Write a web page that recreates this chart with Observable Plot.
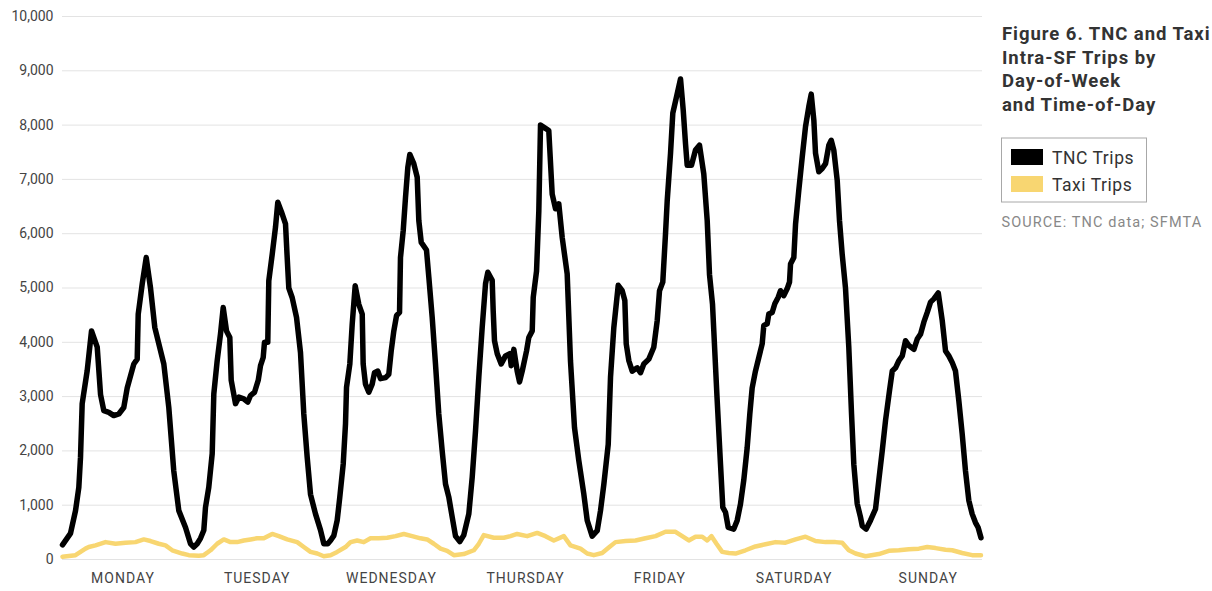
<!DOCTYPE html>
<html>
<head>
<meta charset="utf-8">
<script src="https://cdn.jsdelivr.net/npm/d3@7"></script>
<script src="https://cdn.jsdelivr.net/npm/@observablehq/plot@0.6"></script>
<style>
  html, body { margin: 0; padding: 0; background: #fff; overflow: hidden; }
  #wrap { position: relative; width: 1212px; height: 591px; font-family: Roboto, "Open Sans", sans-serif; }
  #chart { position: absolute; left: 0; top: 0; }
  #panel { position: absolute; left: 990px; top: 0; }
  g[aria-label="x-axis tick label"] text { letter-spacing: 1px; }
</style>
</head>
<body>
<div id="wrap">
  <div id="chart"></div>
  <div id="panel"></div>
</div>
<script>
// Hour of week (0 = Monday 00:00) and trips
const tncHours = [1.18,2.61,3.51,4.10,4.40,4.70,5.60,6.37,7.39,7.98,8.57,9.46,10.35,11.25,12.14,12.75,13.93,14.54,14.72,15.43,16.15,16.92,17.69,19.30,20.19,21.08,21.98,23.18,24.07,24.66,
  25.27,25.86,26.45,26.75,27.34,27.95,28.24,28.84,29.43,29.92,30.51,31.10,31.35,32.12,32.71,33.60,34.32,34.80,35.52,36.18,36.59,37.07,37.30,37.89,38.07,38.68,39.27,39.68,40.34,41.06,41.36,41.65,42.26,43.03,43.74,44.33,44.94,45.53,46.42,47.32,47.91,48.62,
  49.11,49.70,50.30,50.77,51.38,51.79,51.97,52.56,52.99,53.52,54.17,54.78,54.95,55.36,55.96,56.56,56.97,57.57,58.05,58.95,59.53,59.96,60.43,60.91,61.45,61.62,62.11,62.52,62.93,63.29,64.00,64.61,64.90,65.33,66.27,66.69,67.29,67.88,68.47,69.08,69.67,70.26,70.87,71.46,72.23,
  72.94,73.84,74.45,75.04,75.63,76.23,76.83,77.24,78.02,78.20,78.43,78.92,79.63,80.40,81.17,81.42,81.89,82.49,82.91,83.39,84.16,84.57,85.18,85.36,85.95,86.36,86.66,87.55,88.14,88.75,89.34,89.93,90.54,91.43,92.02,92.74,93.51,94.40,95.01,95.90,
  96.80,97.39,97.98,98.77,99.18,99.77,100.56,101.27,101.74,101.99,102.46,103.06,103.95,104.54,105.13,106.03,106.92,107.53,107.94,108.53,109.01,109.32,109.91,110.32,110.98,111.70,112.18,112.59,112.89,113.66,114.38,115.09,115.86,116.47,116.88,117.42,118.22,118.85,119.26,
  119.74,120.23,121.22,121.83,122.42,123.01,123.62,124.09,124.51,125.10,125.70,126.30,126.59,127.20,127.48,128.09,128.56,129.17,129.58,130.17,130.78,131.19,131.37,131.96,132.27,132.85,133.46,134.05,134.64,135.07,135.54,135.84,136.43,137.04,137.63,138.22,138.65,139.11,139.72,140.13,140.61,141.20,141.79,142.28,142.69,143.29,143.88,
  144.19,144.90,145.67,146.57,147.16,147.77,148.36,149.07,149.56,150.15,150.74,151.35,151.94,152.53,153.43,154.03,154.62,155.21,155.82,156.41,157.00,157.79,158.50,159.09,159.68,160.28,160.87,161.46,162.07,162.66,163.25,163.85,164.44,164.92,165.43];
const tncTrips = [270,480,900,1330,1880,2870,3480,4210,3910,3040,2740,2710,2650,2680,2800,3160,3600,3690,4520,5070,5560,5000,4270,3600,2800,1630,900,590,290,230,
  290,390,540,960,1330,1950,3050,3660,4150,4640,4210,4090,3300,2870,2990,2960,2900,3020,3080,3300,3570,3720,4000,4000,5130,5620,6120,6580,6400,6180,5560,5000,4820,4460,3810,2680,1880,1200,840,540,290,290,
  350,440,720,1150,1760,2500,3170,3600,4340,5040,4700,4520,3600,3230,3080,3230,3440,3470,3330,3350,3410,3840,4210,4490,4550,5560,6060,6670,7220,7460,7290,7040,6240,5840,5700,5200,4460,3600,2680,2000,1390,1150,780,430,330,
  450,840,1520,2370,3360,4270,5080,5290,5140,4580,4030,3790,3600,3750,3790,3570,3870,3470,3270,3470,3840,4090,4210,4830,5310,6420,8000,7940,7900,6730,6460,6550,5930,5260,3660,2430,1820,1210,720,430,
  530,900,1380,2120,3360,4270,5050,4950,4770,3970,3660,3470,3530,3440,3600,3690,3910,4400,4950,5110,5990,6610,7480,8220,8520,8850,8280,7660,7260,7260,7540,7630,7100,6240,5250,4700,3000,1750,960,
  870,590,560,720,1020,1460,2060,2680,3160,3470,3720,3970,4310,4340,4520,4550,4710,4830,4950,4860,4990,5110,5440,5560,6180,6800,7410,7970,8340,8570,8090,7480,7140,7200,7290,7630,7720,7540,6980,6240,5620,5000,3910,2680,1750,1030,780,
  620,560,720,930,1460,2000,2560,3110,3470,3530,3660,3750,4030,3940,3870,4060,4150,4370,4550,4740,4800,4910,4400,3840,3750,3630,3470,2930,2310,1630,1090,840,680,590,400];

const taxiHours = [1.18,3.51,5.29,5.88,7.08,8.87,10.66,12.45,14.23,15.72,16.92,18.40,19.60,20.80,22.59,23.77,
  25.55,26.45,27.65,28.84,30.03,31.22,32.42,33.60,34.80,35.99,37.18,38.68,39.86,41.36,43.15,44.33,45.53,46.73,47.91,
  49.11,50.30,51.79,52.69,53.88,55.06,56.26,57.74,59.25,60.73,62.21,63.71,65.19,66.39,67.58,68.78,69.97,71.16,
  72.94,74.73,75.63,76.52,78.31,80.10,81.29,82.49,84.28,86.07,87.55,89.04,90.83,92.02,93.81,95.01,96.19,
  97.69,98.87,100.07,101.86,103.65,105.44,107.23,109.01,110.80,112.00,113.18,114.38,115.58,116.47,117.24,118.13,119.15,
  120.33,121.53,123.32,125.10,126.89,128.68,130.47,132.27,134.05,135.84,137.63,139.42,140.61,141.79,142.99,
  144.78,147.16,148.95,150.74,152.53,154.32,155.82,157.31,159.09,160.28,162.07,163.85,165.43];
const taxiTrips = [50,80,200,230,260,320,290,310,320,370,340,290,260,170,110,80,
  70,80,170,290,370,320,320,350,370,390,390,470,430,370,320,230,140,110,60,
  80,140,230,320,350,320,390,390,400,430,470,430,390,370,290,200,160,80,
  100,170,290,450,400,400,430,470,430,490,430,350,430,260,200,110,80,
  120,220,320,340,350,390,430,510,510,430,350,420,420,350,430,290,140,
  120,110,170,240,280,320,310,370,420,340,320,320,310,170,110,
  60,100,160,170,190,200,230,210,180,170,120,80,80];

const dayNames = ["MONDAY","TUESDAY","WEDNESDAY","THURSDAY","FRIDAY","SATURDAY","SUNDAY"];
const dayTickHours = [12,36,60,84,108,132,156];
const yTicks = [0,1000,2000,3000,4000,5000,6000,7000,8000,9000,10000];
const seriesNames = ["TNC Trips","Taxi Trips"];
const seriesColors = ["#000000","#f8d671"];

const tnc = tncHours.map((h, i) => ({hour: h, trips: tncTrips[i]}));
const taxi = taxiHours.map((h, i) => ({hour: h, trips: taxiTrips[i]}));

const chart = Plot.plot({
  width: 990,
  height: 591,
  marginLeft: 62,
  marginRight: 8,
  marginTop: 16,
  marginBottom: 32,
  style: {fontFamily: "Roboto, 'Open Sans', sans-serif", fontSize: "14px", color: "#444", background: "#fff"},
  x: {domain: [1.18, 165.7]},
  y: {domain: [0, 10000]},
  marks: [
    Plot.ruleY(yTicks, {stroke: "#e3e3e3", strokeWidth: 1}),
    Plot.axisY(yTicks, {tickSize: 0, tickPadding: 9, tickFormat: d3.format(","), fontSize: 14, label: null}),
    Plot.axisX(dayTickHours, {tickSize: 0, tickPadding: 14, tickFormat: d => dayNames[dayTickHours.indexOf(d)], fontSize: 14, label: null}),
    Plot.line(tnc, {x: "hour", y: "trips", stroke: seriesColors[0], strokeWidth: 5.5, strokeLinejoin: "round", strokeLinecap: "round"}),
    Plot.line(taxi, {x: "hour", y: "trips", stroke: seriesColors[1], strokeWidth: 4.5, strokeLinejoin: "round", strokeLinecap: "round"})
  ]
});
document.getElementById("chart").appendChild(chart);

// Right panel: title, legend, source
const panel = d3.select("#panel").append("svg")
  .attr("width", 222).attr("height", 591)
  .style("font-family", "Roboto, 'Open Sans', sans-serif");
const titleLines = ["Figure 6. TNC and Taxi", "Intra-SF Trips by", "Day-of-Week", "and Time-of-Day"];
panel.selectAll("text.title").data(titleLines).join("text")
  .attr("class", "title")
  .attr("x", 12)
  .attr("y", (d, i) => 40 + i * 23.7)
  .attr("font-size", 18.5)
  .attr("font-weight", 700)
  .attr("letter-spacing", 0.95)
  .attr("fill", "#333")
  .text(d => d);

panel.append("rect")
  .attr("x", 11.5).attr("y", 138).attr("width", 145).attr("height", 64)
  .attr("fill", "none").attr("stroke", "#a8a8a8").attr("stroke-width", 1);
seriesNames.forEach((name, i) => {
  panel.append("rect")
    .attr("x", 21).attr("y", 149 + i * 27).attr("width", 32).attr("height", 16)
    .attr("fill", seriesColors[i]);
  panel.append("text")
    .attr("x", 62).attr("y", 164 + i * 26.5)
    .attr("font-size", 17.5)
    .attr("letter-spacing", 0.55)
    .attr("fill", "#333")
    .text(name);
});
panel.append("text")
  .attr("x", 11.5).attr("y", 227)
  .attr("font-size", 14.5)
  .attr("letter-spacing", 1.1)
  .attr("fill", "#888")
  .text("SOURCE: TNC data; SFMTA");
</script>
</body>
</html>
